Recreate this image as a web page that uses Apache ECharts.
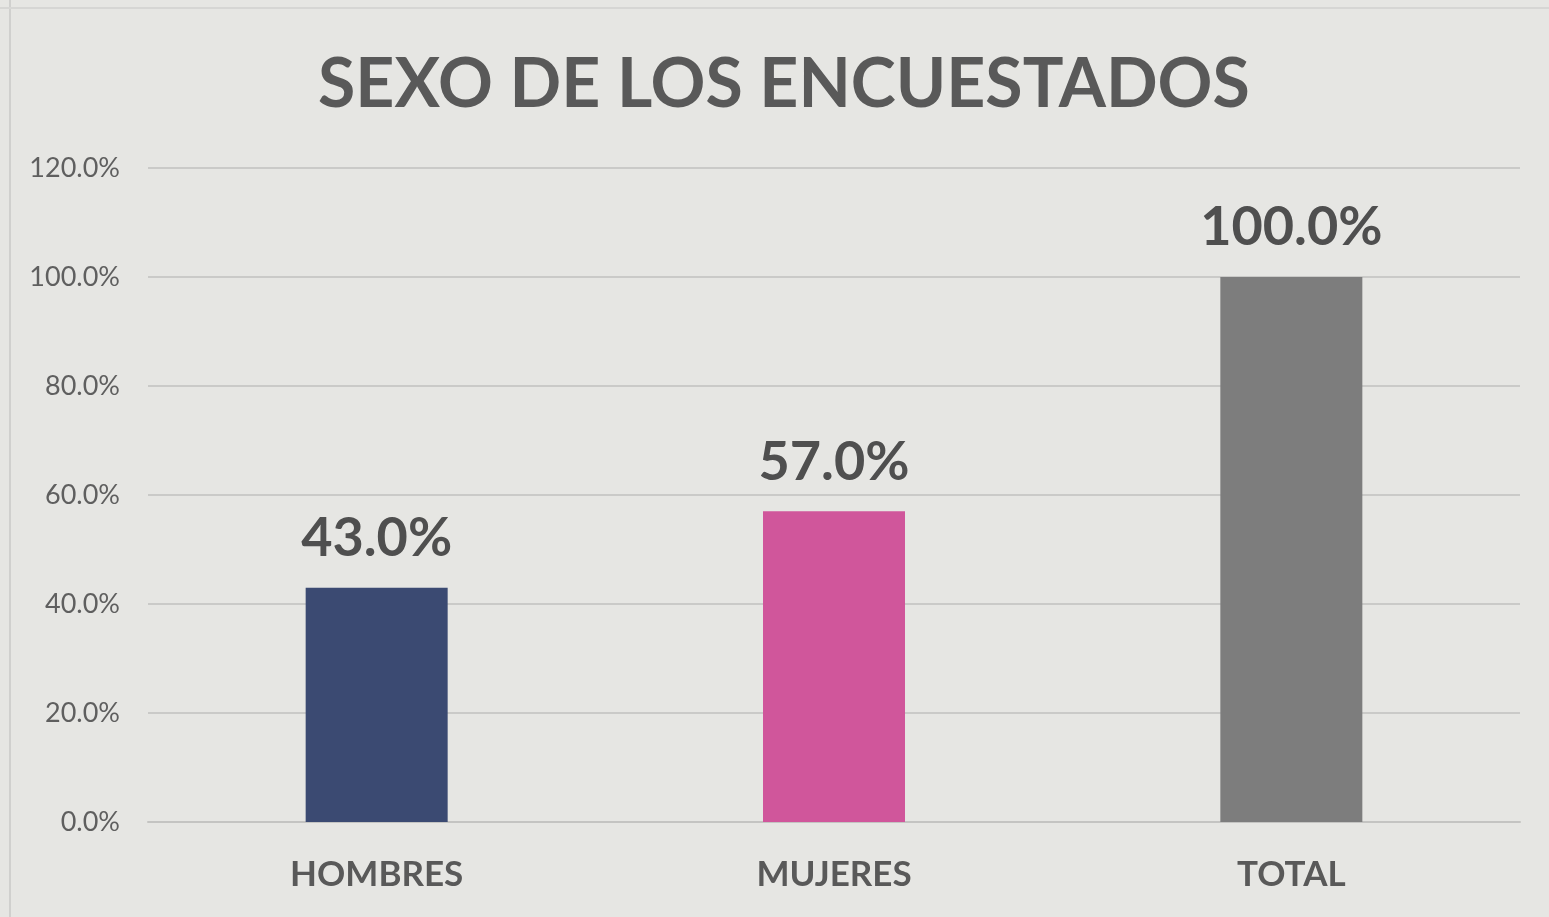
<!DOCTYPE html>
<html>
<head>
<meta charset="utf-8">
<script src="https://cdn.jsdelivr.net/npm/echarts@6/dist/echarts.min.js"></script>
<style>
  html, body { margin: 0; padding: 0; background: #e6e6e3; }
  #main { width: 1549px; height: 917px; }
</style>
</head>
<body>
<div id="main"></div>
<script>
// datos del grafico
var categorias = ['HOMBRES', 'MUJERES', 'TOTAL'];
var porcentajes = [43.0, 57.0, 100.0];
var colores = ['#3b4a72', '#d0569b', '#7d7d7d'];
var titulo = 'SEXO DE LOS ENCUESTADOS';

var chart = echarts.init(document.getElementById('main'));

var option = {
  backgroundColor: '#e6e6e3',
  animation: false,
  title: {
    text: titulo,
    left: 313,
    top: 46,
    textStyle: {
      fontFamily: 'Lato',
      fontWeight: 'bold',
      fontSize: 68,
      color: '#595959'
    }
  },
  // borde del recorte escaneado
  graphic: [
    { type: 'line', shape: { x1: 10, y1: 0, x2: 10, y2: 917 }, style: { stroke: '#d0d0ce', lineWidth: 2 } },
    { type: 'line', shape: { x1: 0, y1: 8, x2: 1549, y2: 8 }, style: { stroke: '#d6d6d4', lineWidth: 2 } }
  ],
  grid: {
    left: 148,
    right: 29,
    top: 168,
    bottom: 95,
    containLabel: false
  },
  xAxis: {
    type: 'category',
    data: categorias,
    axisLine: { lineStyle: { color: '#c4c4c2', width: 2 } },
    axisTick: { show: false },
    axisLabel: {
      margin: 35,
      fontFamily: 'Lato',
      fontWeight: 'bold',
      fontSize: 35,
      color: '#595959'
    }
  },
  yAxis: {
    type: 'value',
    min: 0,
    max: 120,
    interval: 20,
    axisLine: { show: false },
    axisTick: { show: false },
    splitLine: { lineStyle: { color: '#cacac8', width: 2 } },
    axisLabel: {
      margin: 28,
      fontFamily: 'Lato',
      fontSize: 27,
      color: '#5f5f5f',
      formatter: function (v) { return v.toFixed(1) + '%'; }
    }
  },
  series: [{
    type: 'bar',
    barWidth: 142,
    data: porcentajes.map(function (v, i) {
      return { value: v, itemStyle: { color: colores[i] } };
    }),
    label: {
      show: true,
      position: 'top',
      distance: 22,
      fontFamily: 'Lato',
      fontWeight: 'bold',
      fontSize: 54,
      color: '#4f4f4f',
      formatter: function (p) { return p.value.toFixed(1) + '%'; }
    }
  }]
};

chart.setOption(option);
</script>
</body>
</html>
